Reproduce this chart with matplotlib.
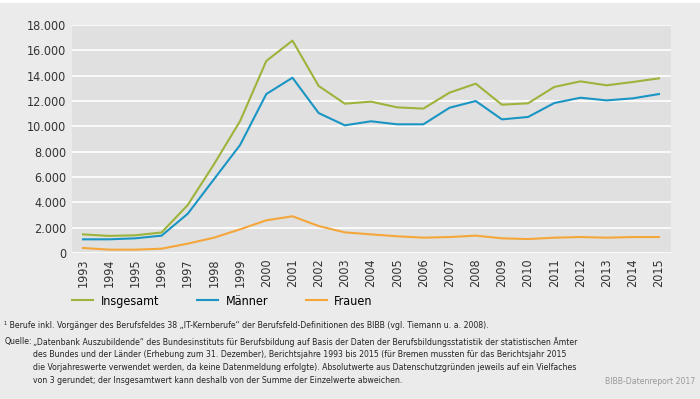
import numpy as np
import matplotlib.pyplot as plt
from matplotlib.patches import Rectangle

plt.rcParams['font.family'] = ['DejaVu Sans']
plt.rcParams['font.stretch'] = 'condensed'
plt.rcParams['font.size'] = 9

# Auszubildende in IT-Berufen, 1993-2015
years = list(range(1993, 2016))
insgesamt = [1470, 1350, 1400, 1620, 3790, 7000, 10420, 15160, 16770, 13190, 11790, 11950,
             11500, 11400, 12660, 13370, 11710, 11820, 13110, 13550, 13240, 13500, 13790]
maenner = [1080, 1080, 1160, 1370, 3100, 5820, 8530, 12550, 13840, 11050, 10080, 10400,
           10160, 10160, 11470, 12000, 10550, 10740, 11840, 12260, 12050, 12210, 12550]
frauen = [395, 265, 265, 340, 740, 1210, 1870, 2580, 2900, 2130, 1630, 1470,
          1320, 1210, 1260, 1370, 1160, 1100, 1210, 1260, 1210, 1260, 1260]
yticks = [0, 2000, 4000, 6000, 8000, 10000, 12000, 14000, 16000, 18000]
ytick_labels = ['0', '2.000', '4.000', '6.000', '8.000', '10.000', '12.000', '14.000', '16.000', '18.000']

fig = plt.figure(figsize=(7, 3.99), dpi=100, facecolor='#ebebeb')
fig.patches.append(Rectangle((0, 0.992), 1, 0.008, transform=fig.transFigure,
                             facecolor='white', edgecolor='none'))
ax = fig.add_axes([0.1029, 0.3659, 0.8557, 0.5714])
ax.set_facecolor('#e0e0e0')

ax.plot(years, insgesamt, color='#9db43c', lw=1.5, label='Insgesamt')
ax.plot(years, maenner, color='#1a95c4', lw=1.5, label='Männer')
ax.plot(years, frauen, color='#f4a63a', lw=1.5, label='Frauen')

ax.set_xlim(1992.58, 2015.46)
ax.set_ylim(0, 18000)
ax.set_xticks(years)
ax.set_xticklabels([str(y) for y in years], rotation=90, color='#333333')
ax.set_yticks(yticks)
ax.set_yticklabels(ytick_labels, color='#333333')
ax.tick_params(length=0, pad=4)
ax.grid(axis='y', color='white', lw=1.2)
ax.set_axisbelow(True)
for s in ax.spines.values():
    s.set_visible(False)

fig.legend(loc='center left', bbox_to_anchor=(0.087, 0.245), ncol=3, frameon=False,
           handlelength=1.7, handletextpad=0.6, columnspacing=3.0, fontsize=9)

fs = 6.2
fig.text(0.006, 0.185, '¹ Berufe inkl. Vorgänger des Berufsfeldes 38 „IT-Kernberufe“ der Berufsfeld-Definitionen des BIBB (vgl. Tiemann u. a. 2008).',
         fontsize=fs, color='#222222', va='center')
fig.text(0.006, 0.143, 'Quelle:', fontsize=fs, color='#222222', va='center')
quelle = ['„Datenbank Auszubildende“ des Bundesinstituts für Berufsbildung auf Basis der Daten der Berufsbildungsstatistik der statistischen Ämter',
          'des Bundes und der Länder (Erhebung zum 31. Dezember), Berichtsjahre 1993 bis 2015 (für Bremen mussten für das Berichtsjahr 2015',
          'die Vorjahreswerte verwendet werden, da keine Datenmeldung erfolgte). Absolutwerte aus Datenschutzgründen jeweils auf ein Vielfaches',
          'von 3 gerundet; der Insgesamtwert kann deshalb von der Summe der Einzelwerte abweichen.']
for i, line in enumerate(quelle):
    fig.text(0.047, 0.143 - i * 0.0326, line, fontsize=fs, color='#222222', va='center')
fig.text(0.993, 0.045, 'BIBB-Datenreport 2017', fontsize=fs, color='#999999', ha='right', va='center')

fig.savefig('out.png', dpi=100, facecolor=fig.get_facecolor())
